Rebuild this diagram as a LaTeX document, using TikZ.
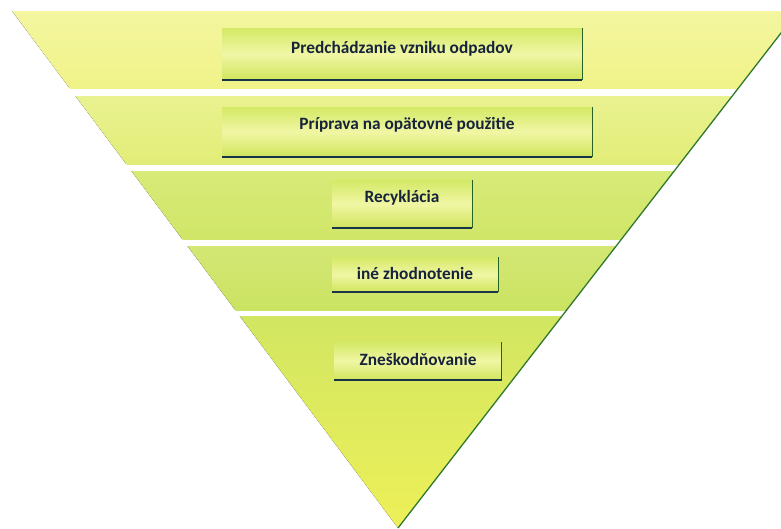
\documentclass[tikz,border=0pt]{standalone}
\usepackage{fontspec}
\setmainfont{Carlito}
\usetikzlibrary{calc}
\definecolor{bandA}{HTML}{F0F388}
\definecolor{bandAt}{HTML}{F4F6A0}
\definecolor{bandB}{HTML}{E2ED78}
\definecolor{bandBt}{HTML}{E9F290}
\definecolor{bandC}{HTML}{D0E668}
\definecolor{bandCt}{HTML}{D8EA78}
\definecolor{bandD}{HTML}{CBE362}
\definecolor{bandDt}{HTML}{D3E774}
\definecolor{bandEt}{HTML}{D2E662}
\definecolor{bandEb}{HTML}{EDF058}
\definecolor{edgegreen}{HTML}{2F7A2E}
\definecolor{boxtop}{HTML}{D4E966}
\definecolor{boxmid}{HTML}{F0F6A4}
\definecolor{boxbot}{HTML}{D0E55C}
\definecolor{boxline}{HTML}{17344A}
\definecolor{txt}{HTML}{16233A}
\tikzset{
  box/.style={rectangle, inner sep=0pt, top color=boxtop, bottom color=boxbot, middle color=boxmid},
  lbl/.style={font=\fontsize{17.3}{20}\selectfont\bfseries, text=txt, inner sep=0pt},
  baseline rule/.style={draw=boxline, line width=2.2pt},
  side rule/.style={draw=edgegreen!80!black, line width=0.7pt}
}
\begin{document}
\begin{tikzpicture}[x=1pt,y=-1pt]
\useasboundingbox (0,0) rectangle (781,528);
\begin{scope}
  \clip (12,11) -- (798,11) -- (398,528) -- cycle;
  \fill[top color=bandAt, bottom color=bandA] (0,11) rectangle (800,88);
  \fill[top color=bandBt, bottom color=bandB] (0,96) rectangle (800,164);
  \fill[top color=bandCt, bottom color=bandC] (0,171) rectangle (800,239);
  \fill[top color=bandDt, bottom color=bandD] (0,246) rectangle (800,310);
  \fill[top color=bandEt, bottom color=bandEb] (0,316) rectangle (800,528);
\end{scope}
\coordinate (tr) at (798,11);
\coordinate (apex) at (398,528);
\draw[edgegreen, line width=1.3pt] (tr) -- (apex);

% boxes
\node[box, minimum width=360, minimum height=52] (b1) at (402,54) {};
\node[box, minimum width=370, minimum height=50] (b2) at (407,132) {};
\node[box, minimum width=140, minimum height=48] (b3) at (402,204) {};
\node[box, minimum width=166, minimum height=35] (b4) at (415,274.5) {};
\node[box, minimum width=167, minimum height=38] (b5) at (418,361) {};

\foreach \b in {b1,b2,b3,b4,b5}{
  \draw[side rule] (\b.north east) -- (\b.south east);
  \draw[baseline rule] (\b.south west) -- (\b.south east);
}

\node[lbl] (t1) at (402,49) {Predchádzanie vzniku odpadov};
\node[lbl] (t2) at (407,125) {Príprava na opätovné použitie};
\node[lbl] (t3) at (402,198) {Recyklácia};
\node[lbl] (t4) at (415,273) {iné zhodnotenie};
\node[lbl] (t5) at (418,359) {Zneškodňovanie};
\end{tikzpicture}
\end{document}
